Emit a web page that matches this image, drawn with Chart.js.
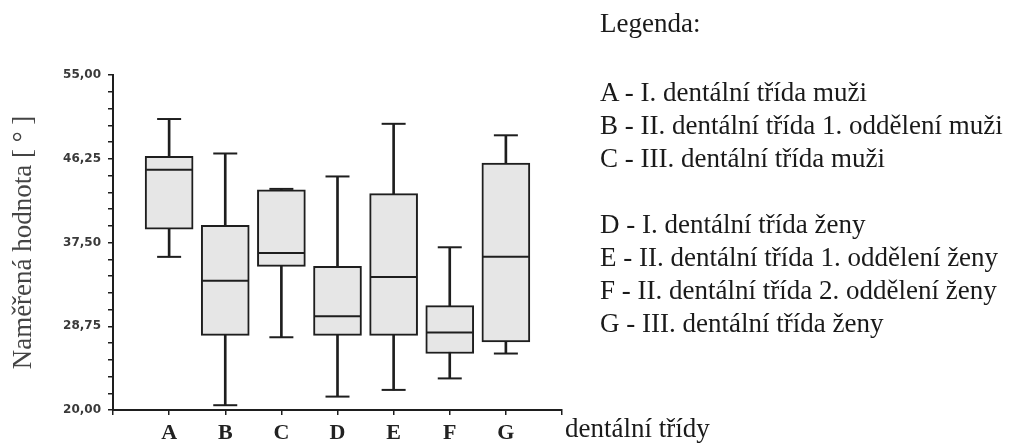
<!DOCTYPE html>
<html>
<head>
<meta charset="utf-8">
<script src="https://cdn.jsdelivr.net/npm/chart.js@4.4.1/dist/chart.umd.min.js"></script>
<style>
  html, body { margin: 0; padding: 0; background: #fff; }
  #wrap { position: relative; width: 1014px; height: 446px; overflow: hidden; }
  canvas { position: absolute; left: 0; top: 0; }
  .txt { position: absolute; font-family: "Liberation Serif", serif; color: #1a1a1a; white-space: nowrap; font-size: 27px; line-height: 27px; }
</style>
</head>
<body>
<div id="wrap">
  <canvas id="c" width="1014" height="446"></canvas>
  <div class="txt" style="left:600px; top:10px;">Legenda:</div>
  <div class="txt" id="legend" style="left:600px; top:76px; line-height:33px;"></div>
  <div class="txt" style="left:565px; top:415px;">dentální třídy</div>
</div>
<script>
// ---- data ----
const categories = ['A', 'B', 'C', 'D', 'E', 'F', 'G'];
const whiskerMin = [36.0, 20.5, 27.6, 21.4, 22.1, 23.3, 25.9];
const q1Values   = [38.9, 27.8, 35.0, 27.8, 27.8, 25.9, 27.1];
const medians    = [45.1, 33.5, 36.4, 29.8, 33.9, 28.1, 36.0];
const q3Values   = [46.5, 39.3, 43.0, 35.0, 42.6, 30.9, 45.8];
const whiskerMax = [50.4, 46.8, 43.1, 44.4, 49.9, 37.0, 48.7];
const yTickMin = 20, yTickMax = 55, yMinorStep = 1.75;
const legendLines = [
  'A - I. dentální třída muži',
  'B - II. dentální třída 1. oddělení muži',
  'C - III. dentální třída muži',
  '',
  'D - I. dentální třída ženy',
  'E - II. dentální třída 1. oddělení ženy',
  'F - II. dentální třída 2. oddělení ženy',
  'G - III. dentální třída ženy'
];

document.getElementById('legend').innerHTML =
  legendLines.map(l => l === '' ? '&nbsp;' : l).join('<br>');

// x labels padded with empty slots at both ends
const labels = [''].concat(categories, ['']);
const pad = arr => [null].concat(arr, [null]);

const ink = '#1e1e1e';
const data = {
  labels: labels,
  datasets: [
    {
      type: 'bar', label: 'whisker', order: 3, grouped: false,
      data: pad(categories.map((c, i) => [whiskerMin[i], whiskerMax[i]])),
      backgroundColor: ink, borderWidth: 0, barThickness: 2
    },
    {
      type: 'bar', label: 'box', order: 2, grouped: false,
      data: pad(categories.map((c, i) => [q1Values[i], q3Values[i]])),
      backgroundColor: '#e6e6e6', borderColor: ink, borderWidth: 2,
      borderSkipped: false, barThickness: 48
    },
    {
      type: 'line', label: 'capMax', order: 1, showLine: false,
      data: pad(whiskerMax), pointStyle: 'line', pointRadius: 12,
      pointBorderWidth: 2, borderColor: ink, pointBorderColor: ink
    },
    {
      type: 'line', label: 'capMin', order: 1, showLine: false,
      data: pad(whiskerMin), pointStyle: 'line', pointRadius: 12,
      pointBorderWidth: 2, borderColor: ink, pointBorderColor: ink
    },
    {
      type: 'line', label: 'median', order: 0, showLine: false,
      data: pad(medians), pointStyle: 'line', pointRadius: 23,
      pointBorderWidth: 2, borderColor: ink, pointBorderColor: ink
    }
  ]
};

new Chart(document.getElementById('c'), {
  type: 'bar',
  data: data,
  options: {
    responsive: false,
    animation: false,
    events: [],
    layout: { padding: { left: 0, right: 452, top: 75, bottom: 0 } },
    plugins: { legend: { display: false }, tooltip: { enabled: false }, title: { display: false } },
    scales: {
      x: {
        type: 'category',
        offset: false,
        grid: { offset: false, drawOnChartArea: false, drawTicks: true, tickLength: 5, color: ink, lineWidth: 1.5 },
        border: { color: ink, width: 2 },
        ticks: {
          autoSkip: false, maxRotation: 0, padding: 5, color: '#222',
          font: { family: '"Liberation Serif", serif', size: 22, weight: 'bold' }
        },
        afterFit: s => { s.height = 36; }
      },
      y: {
        min: yTickMin, max: yTickMax,
        grid: { drawOnChartArea: false, drawTicks: true, tickLength: 5, color: ink, lineWidth: 1.5 },
        border: { color: ink, width: 2 },
        ticks: {
          stepSize: yMinorStep, autoSkip: false, padding: 7, color: '#3a3a3a',
          font: { family: '"DejaVu Sans", sans-serif', size: 12, weight: 'bold' },
          callback: (v, i) => (i % 5 === 0) ? Number(v).toFixed(2).replace('.', ',') : ''
        },
        title: {
          display: true, text: 'Naměřená hodnota [ ° ]', color: '#444',
          font: { family: '"Liberation Serif", serif', size: 27 },
          padding: { top: 8, bottom: 0 }
        },
        afterFit: s => { s.width = 113; }
      }
    }
  }
});
</script>
</body>
</html>
